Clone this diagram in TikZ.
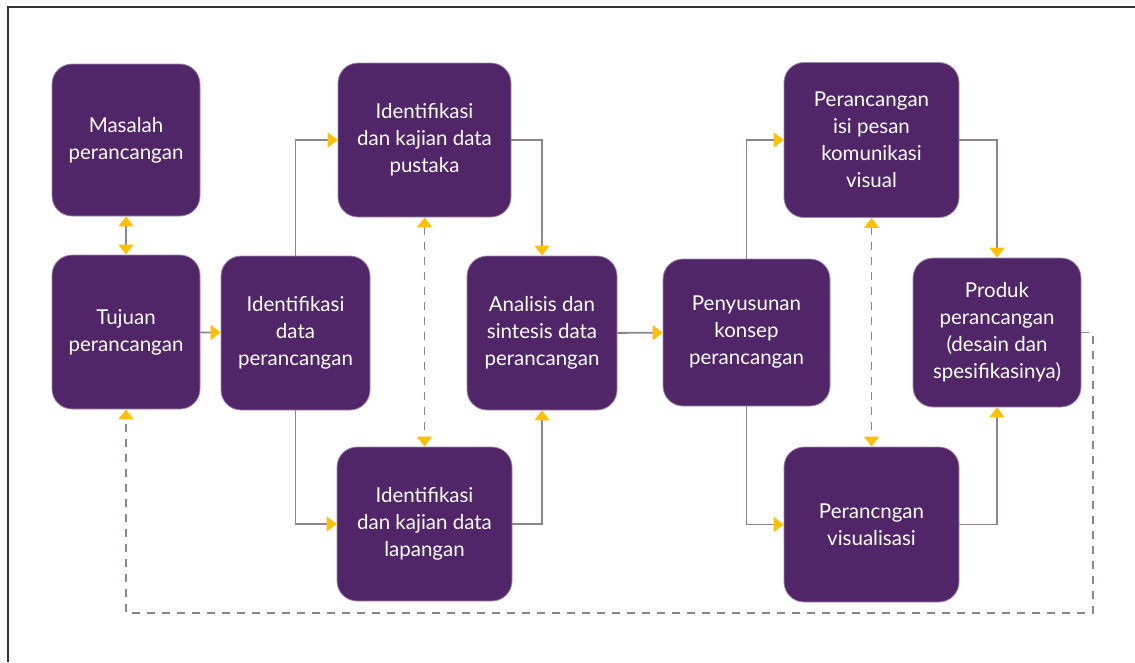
\documentclass[tikz,border=0pt]{standalone}
\usepackage{fontspec}
\setmainfont{Lato}
\usepackage{tikz}
\usetikzlibrary{arrows.meta}
\definecolor{ungu}{RGB}{81,38,104}
\definecolor{kuning}{RGB}{255,192,0}
\definecolor{garis}{RGB}{140,132,150}

\tikzset{
  kotak/.style={draw=ungu!55!white, line width=0.8pt, fill=ungu, rounded corners=20pt,
    text=white, align=center, inner sep=0pt, font=\fontsize{20.5}{27}\selectfont},
  alur/.style={draw=garis, line width=1.9pt, -{Triangle[length=10pt,width=15pt,color=kuning]}},
  alurdua/.style={draw=garis, line width=1.9pt,
    {Triangle[length=10pt,width=15pt,color=kuning]}-{Triangle[length=10pt,width=15pt,color=kuning]}},
  putus/.style={dash pattern=on 8pt off 7pt}
}

\begin{document}
\begin{tikzpicture}[x=1pt,y=-1pt]
      \useasboundingbox (0,0) rectangle (1135,662);
      \draw[line width=1.5pt, black!80] (8,662) -- (8,7) -- (1135,7);

      \node[kotak, minimum width=148pt, minimum height=152pt] (masalah) at (126,140) {Masalah\\perancangan};
      \node[kotak, minimum width=148pt, minimum height=154pt] (tujuan) at (126,332) {Tujuan\\perancangan};
      \node[kotak, minimum width=149pt, minimum height=154pt] (idata) at (295.5,333) {Identifikasi\\data\\perancangan};
      \node[kotak, minimum width=173pt, minimum height=154pt] (pustaka) at (424.5,140) {Identifikasi\\dan kajian data\\pustaka};
      \node[kotak, minimum width=175pt, minimum height=154pt] (lapangan) at (424.5,524) {Identifikasi\\dan kajian data\\lapangan};
      \node[kotak, minimum width=150pt, minimum height=154pt] (analisis) at (542,333) {Analisis dan\\sintesis data\\perancangan};
      \node[kotak, minimum width=167pt, minimum height=147pt] (konsep) at (746.5,332.5) {Penyusunan\\konsep\\perancangan};
      \node[kotak, minimum width=175pt, minimum height=155pt] (isipesan) at (871.5,140) {Perancangan\\isi pesan\\komunikasi\\visual};
      \node[kotak, minimum width=175pt, minimum height=155pt] (visual) at (871.5,524.5) {Perancngan\\visualisasi};
      \node[kotak, minimum width=168pt, minimum height=149pt] (produk) at (997,332.5) {Produk\\perancangan\\(desain dan\\spesifikasinya)};

      \coordinate (balik) at (1093,613);

      \draw[alurdua] (masalah) -- (tujuan);
      \draw[alur] (tujuan) -- (idata);
      \draw[alur] (idata.north) |- (pustaka.west);
      \draw[alur] (idata.south) |- (lapangan.west);
      \draw[alurdua, putus] (pustaka) -- (lapangan);
      \draw[alur] (pustaka.east) -| (analisis.north);
      \draw[alur] (lapangan.east) -| (analisis.south);
      \draw[alur] (analisis) -- (konsep);
      \draw[alur] (konsep.north) |- (isipesan.west);
      \draw[alur] (konsep.south) |- (visual.west);
      \draw[alurdua, putus] (isipesan) -- (visual);
      \draw[alur] (isipesan.east) -| (produk.north);
      \draw[alur] (visual.east) -| (produk.south);
      \draw[alur, putus] (produk.east) -| (balik) -| (tujuan.south);
\end{tikzpicture}
\end{document}
